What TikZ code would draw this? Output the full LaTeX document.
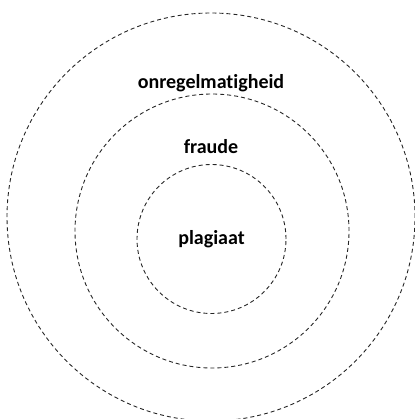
\documentclass[tikz,border=0pt]{standalone}
\usepackage{fontspec}
\setmainfont[Ligatures={NoCommon}]{Carlito}
\usetikzlibrary{positioning}

\begin{document}
\begin{tikzpicture}[x=1pt,y=-1pt,
        ring/.style={circle,draw=black!85,line width=0.9pt,
                     dash pattern=on 4pt off 3pt,inner sep=0pt},
        label/.style={font=\fontsize{20}{22}\selectfont\bfseries,inner sep=1pt}]
      \useasboundingbox (0,0) rectangle (414,419);
      \node[ring,minimum size=408pt] (outer) at (211,217) {};
      \node[ring,minimum size=274pt] (middle) at (212,231) {};
      \node[ring,minimum size=149pt] (inner) at (211.5,239) {};
      \node[label] (plagiaat) at (inner.center) {plagiaat};
      \node[label] (fraude) at (211,147) {fraude};
      \node[label] (onregel) at (211,83) {onregelmatigheid};
    \end{tikzpicture}
\end{document}
